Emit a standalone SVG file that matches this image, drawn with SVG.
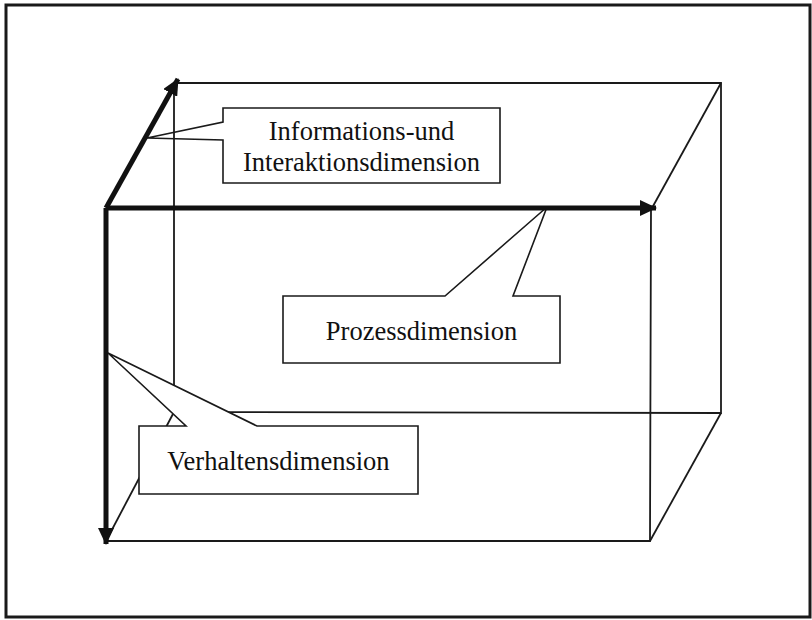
<svg xmlns="http://www.w3.org/2000/svg" width="812" height="620" viewBox="0 0 812 620">
<defs>
<marker id="ah" markerUnits="userSpaceOnUse" markerWidth="18" markerHeight="16" refX="16" refY="8" orient="auto">
<path d="M0,0 L17,8 L0,16 Z" fill="#111"/>
</marker>
<style>
.frame{fill:#fff;stroke:#1a1a1a;stroke-width:3}
.edge{fill:none;stroke:#1a1a1a;stroke-width:1.8}
.axis{fill:none;stroke:#111;stroke-width:5;marker-end:url(#ah)}
.callout{fill:#fff;stroke:#1a1a1a;stroke-width:1.6;stroke-linejoin:miter}
.lbl{font-family:"Liberation Serif","Times New Roman",serif;font-size:26.5px;fill:#111;text-anchor:middle}
</style>
</defs>
<rect class="frame" x="6" y="5" width="804" height="612"/>
<g id="node-info">
<polygon class="callout" points="223,108 500,108 500,183 223,183 223,140 147,138 223,122"/>
<text class="lbl" x="361.5" y="140">Informations-und</text>
<text class="lbl" x="361.5" y="171">Interaktionsdimension</text>
</g>
<g id="cube">
<polyline class="edge" points="174,412 174,83 721,83 721,413 174,412"/>
<line class="edge" x1="721" y1="83" x2="652" y2="208"/>
<line class="edge" x1="721" y1="413" x2="650" y2="541"/>
<line class="edge" x1="174" y1="412" x2="106" y2="541"/>
<polyline class="edge" points="651,208 650,541 106,541"/>
</g>
<g id="node-verhalten">
<polygon class="callout" points="139,426 186,426 108,353 257,426 418,426 418,494 139,494"/>
<text class="lbl" x="278.5" y="470">Verhaltensdimension</text>
</g>
<g id="node-prozess">
<polygon class="callout" points="283,296 445,296 547,207 513,296 560,296 560,363 283,363"/>
<text class="lbl" x="421.5" y="340">Prozessdimension</text>
</g>
<g id="connectors">
<line class="axis" x1="106" y1="208" x2="656" y2="208"/>
<line class="axis" x1="106" y1="208" x2="178" y2="79"/>
<line class="axis" x1="106" y1="208" x2="106" y2="544"/>
</g>
</svg>
